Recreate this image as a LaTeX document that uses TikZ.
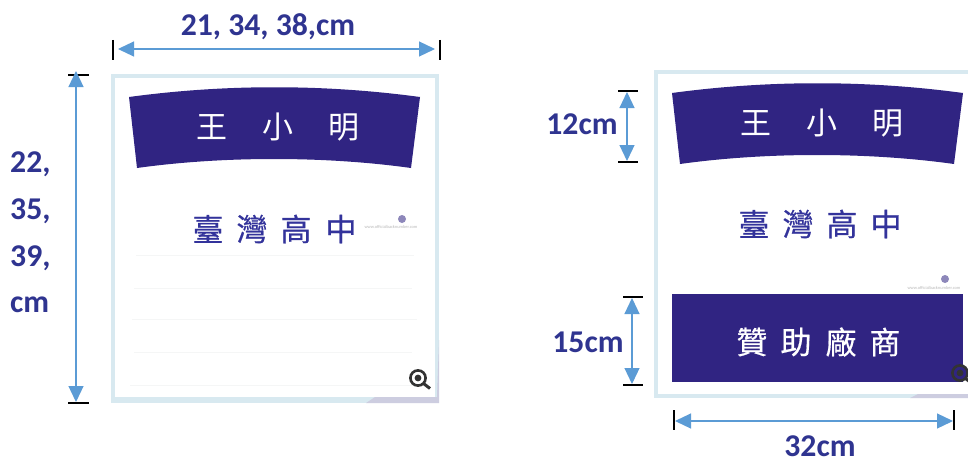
\documentclass[tikz,border=0pt]{standalone}
\usepackage{fontspec}
\setmainfont{Carlito}
\newfontfamily\cjk{Noto Sans CJK TC}
\newfontfamily\cjkm[FakeBold=0.5]{Noto Sans CJK TC}
\usetikzlibrary{arrows.meta}
\definecolor{navy}{HTML}{302482}
\definecolor{labelc}{HTML}{2F3490}
\definecolor{schoolc}{HTML}{33339B}
\definecolor{arrowc}{HTML}{5B9BD5}
\definecolor{framec}{HTML}{D8E9F0}
\definecolor{cornerc}{HTML}{CDCDE0}
\definecolor{ruleC}{HTML}{F5F6F6}
\tikzset{
  x=1pt,y=-1pt,
  dim/.style={draw=arrowc,line width=1.2pt,{Triangle[length=16pt,width=15pt,fill=arrowc]}-{Triangle[length=16pt,width=15pt,fill=arrowc]}},
  tick/.style={draw=black,line width=1.5pt},
  lab/.style={font=\bfseries\fontsize{31.7}{33}\selectfont,text=labelc,inner sep=0pt},
  banner/.style={fill=navy,draw=none},
  nametxt/.style={font=\cjk\fontsize{31}{34}\selectfont,text=white,inner sep=0pt},
  spontxt/.style={font=\cjkm\fontsize{31}{34}\selectfont,text=white,inner sep=0pt},
  school/.style={font=\cjkm\fontsize{31}{34}\selectfont,text=schoolc,inner sep=0pt},
  wm/.style={font=\fontsize{4.4}{5}\selectfont,text=gray!55,inner sep=0pt},
  faint/.style={draw=ruleC,line width=0.7pt}
}
\newcommand{\lens}[3]{%
  \draw[line width=2.6pt,draw=black!80,fill=#3] (#1,#2) circle (7.6);
  \fill[black!80] (#1,#2) circle (3.4);
  \draw[line width=3pt,draw=black!80] (#1+5.5,#2+5.5) -- (#1+12,#2+10.5);
}
\begin{document}
\begin{tikzpicture}
\useasboundingbox (0,0) rectangle (968,460);
\fill[white] (0,0) rectangle (968,460);

% left card
\fill[framec] (111,74) rectangle (439,403);
\fill[cornerc] (366,403) -- (439,403) -- (439,340) -- (437,397) -- (375,397) -- cycle;
\fill[white] (115,78) rectangle (435,397);
\draw[faint] (136,255) -- (414,255);
\draw[faint] (134,288) -- (412,288);
\draw[faint] (132,319) -- (417,319);
\draw[faint] (134,352) -- (412,352);
\draw[faint] (130,385) -- (414,385);
\fill[banner] (129,97) .. controls (225,84) and (324,84) .. (420,97) -- (411,168) .. controls (325,156) and (223,156) .. (137,168) -- cycle;
\node[nametxt] (n1a) at (212,127) {王};
\node[nametxt] (n1b) at (278,127) {小};
\node[nametxt] (n1c) at (344,127) {明};
\node[school] (s1a) at (208,229) {臺};
\node[school] (s1b) at (252,229) {灣};
\node[school] (s1c) at (296,229) {高};
\node[school] (s1d) at (341,229) {中};
\fill[navy!55] (402,219) circle (4);
\node[wm] (w1) at (391,227) {www.officialbacknumber.com};
\lens{418}{378}{white}

% left dimensions
\coordinate (lt1) at (113,40); \coordinate (lt2) at (113,60);
\coordinate (rt1) at (440,40); \coordinate (rt2) at (440,60);
\draw[tick] (lt1) -- (lt2);
\draw[tick] (rt1) -- (rt2);
\coordinate (la) at (118,49); \coordinate (lb) at (435,49);
\draw[dim] (la) -- (lb);
\node[lab] (wlab) at (268,27) {21, 34, 38,cm};
\coordinate (tt1) at (68,75); \coordinate (tt2) at (89,75);
\coordinate (bt1) at (68,403); \coordinate (bt2) at (89,403);
\draw[tick] (tt1) -- (tt2);
\draw[tick] (bt1) -- (bt2);
\coordinate (va) at (76,71); \coordinate (vb) at (76,402);
\draw[dim] (va) -- (vb);
\node[lab,anchor=west] (h1) at (10,164) {22,};
\node[lab,anchor=west] (h2) at (10,211) {35,};
\node[lab,anchor=west] (h3) at (10,258) {39,};
\node[lab,anchor=west] (h4) at (10,305) {cm};

% right card
\fill[framec] (654,70) rectangle (968,398);
\fill[cornerc] (910,398) -- (968,398) -- (968,394) -- (918,394) -- cycle;
\fill[white] (658,74) rectangle (968,394);
\fill[banner] (672,93) .. controls (768,80) and (867,80) .. (963,93) -- (954,164) .. controls (868,152) and (766,152) .. (680,164) -- cycle;
\node[nametxt] (n2a) at (756,123) {王};
\node[nametxt] (n2b) at (822,123) {小};
\node[nametxt] (n2c) at (888,123) {明};
\node[school] (s2a) at (754,224) {臺};
\node[school] (s2b) at (798,224) {灣};
\node[school] (s2c) at (842,224) {高};
\node[school] (s2d) at (886,224) {中};
\fill[navy!55] (945,279) circle (4);
\node[wm] (w2) at (934,288) {www.officialbacknumber.com};
\node[banner,minimum width=291,minimum height=88,inner sep=0pt,anchor=north west] (spons) at (672,294) {};
\node[spontxt] (p1) at (752,342) {贊};
\node[spontxt] (p2) at (796,342) {助};
\node[spontxt] (p3) at (841,342) {廠};
\node[spontxt] (p4) at (885,342) {商};
\lens{960}{373}{navy}

% right dimensions
\coordinate (a1) at (618,91); \coordinate (a2) at (638,91);
\coordinate (b1) at (618,162); \coordinate (b2) at (638,162);
\draw[tick] (a1) -- (a2);
\draw[tick] (b1) -- (b2);
\coordinate (ua) at (627,92); \coordinate (ub) at (627,161);
\draw[dim] (ua) -- (ub);
\node[lab] (d12) at (582,124) {12cm};
\coordinate (c1) at (623,297); \coordinate (c2) at (643,297);
\coordinate (e1) at (623,385); \coordinate (e2) at (643,385);
\draw[tick] (c1) -- (c2);
\draw[tick] (e1) -- (e2);
\coordinate (ta) at (632,298); \coordinate (tb) at (632,384);
\draw[dim] (ta) -- (tb);
\node[lab] (d15) at (588,342) {15cm};
\coordinate (f1) at (674,410); \coordinate (f2) at (674,430);
\coordinate (g1) at (954,410); \coordinate (g2) at (954,430);
\draw[tick] (f1) -- (f2);
\draw[tick] (g1) -- (g2);
\coordinate (ha) at (675,421); \coordinate (hb) at (953,421);
\draw[dim] (ha) -- (hb);
\node[lab] (d32) at (820,446.5) {32cm};
\end{tikzpicture}
\end{document}
